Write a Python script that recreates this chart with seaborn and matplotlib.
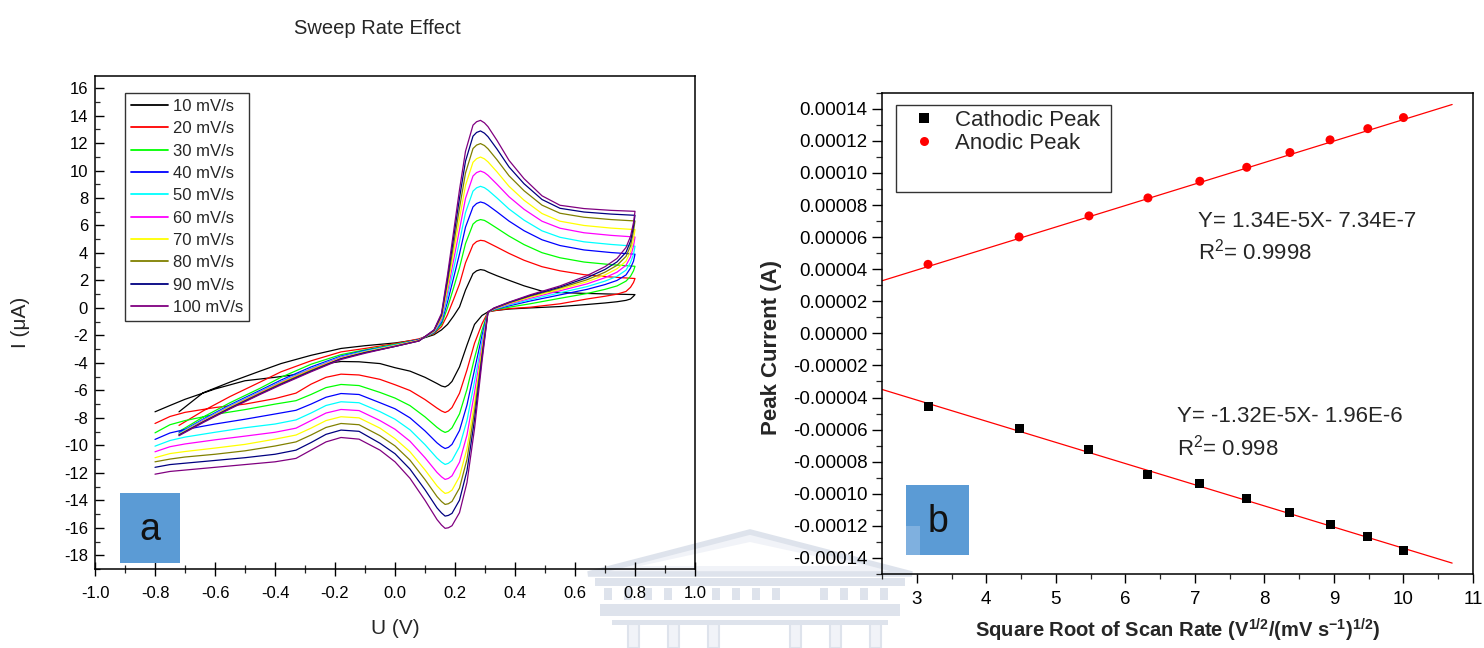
import numpy as np
import pandas as pd
import matplotlib
matplotlib.use("Agg")
import matplotlib.pyplot as plt
import seaborn as sns
from matplotlib.patches import Rectangle, Polygon
from matplotlib.ticker import MultipleLocator, FuncFormatter

# ---------------- data: cyclic voltammograms (panel a) ----------------
scan_labels = ["10 mV/s", "20 mV/s", "30 mV/s", "40 mV/s", "50 mV/s",
               "60 mV/s", "70 mV/s", "80 mV/s", "90 mV/s", "100 mV/s"]
line_colors = ["#000000", "#FF0000", "#00FF00", "#0000FF", "#00FFFF",
               "#FF00FF", "#FFFF00", "#808000", "#000080", "#800080"]

fwd_potential = [-0.72, -0.64, -0.55, -0.45, -0.38, -0.28, -0.18, -0.1, 0.0, 0.08,
                 0.13, 0.155, 0.175, 0.195, 0.215, 0.235, 0.26, 0.272, 0.285, 0.298,
                 0.31, 0.34, 0.38, 0.43, 0.49, 0.55, 0.63, 0.72, 0.8]
rev_potential = [0.8, 0.795, 0.785, 0.77, 0.74, 0.7, 0.64, 0.55, 0.45, 0.38,
                 0.33, 0.31, 0.29, 0.265, 0.24, 0.215, 0.19, 0.178, 0.167, 0.155,
                 0.14, 0.1, 0.05, 0.0, -0.05, -0.12, -0.18, -0.23, -0.28, -0.33,
                 -0.4, -0.5, -0.6, -0.7, -0.75, -0.8]

fwd_10 = [-7.56, -6.18, -5.4, -4.6, -4.05, -3.45, -2.95, -2.75, -2.55, -2.3,
          -1.95, -1.6, -1.2, -0.6, 0.07, 1.3, 2.5, 2.7, 2.79, 2.74,
          2.61, 2.34, 2.01, 1.61, 1.22, 1.12, 1.06, 1.01, 0.97]
rev_10 = [0.97, 0.85, 0.65, 0.55, 0.45, 0.36, 0.25, 0.1, 0.0, -0.08,
          -0.2, -0.29, -0.55, -1.2, -2.7, -4.29, -5.35, -5.62, -5.75, -5.68,
          -5.5, -5.05, -4.6, -4.35, -4.05, -3.92, -3.9, -4.05, -4.5, -4.85,
          -5.05, -5.3, -5.9, -6.65, -7.1, -7.56]

fwd_20 = [-8.55, -7.5, -6.45, -5.4, -4.65, -3.85, -3.2, -2.95, -2.6, -2.25,
          -1.88, -1.36, -0.49, 0.6, 1.74, 3.28, 4.6, 4.83, 4.92, 4.88,
          4.75, 4.42, 3.97, 3.47, 3.0, 2.70, 2.42, 2.25, 2.14]
rev_20 = [2.14, 1.85, 1.5, 1.2, 1.0, 0.85, 0.65, 0.3, 0.05, -0.05,
          -0.2, -0.29, -1.16, -2.58, -4.51, -6.21, -7.25, -7.5, -7.61, -7.5,
          -7.29, -6.67, -6.01, -5.59, -5.2, -4.88, -4.82, -5.05, -5.55, -6.2,
          -6.6, -7.0, -7.25, -7.6, -7.9, -8.41]

fwd_30 = [-9.0, -7.95, -6.9, -5.85, -5.05, -4.1, -3.4, -3.05, -2.65, -2.3,
          -1.83, -1.2, 0.01, 1.44, 2.93, 4.68, 6.1, 6.33, 6.43, 6.37,
          6.22, 5.80, 5.23, 4.61, 4.02, 3.65, 3.34, 3.15, 3.03]
rev_30 = [3.03, 2.7, 2.3, 1.95, 1.6, 1.35, 1.05, 0.7, 0.3, 0.05,
          -0.15, -0.29, -1.63, -3.65, -5.92, -7.71, -8.73, -8.97, -9.06, -8.93,
          -8.69, -7.93, -7.11, -6.56, -6.15, -5.65, -5.57, -5.8, -6.3, -6.75,
          -7.0, -7.4, -7.75, -8.2, -8.5, -9.09]

fwd_40 = [-9.1, -8.1, -7.05, -6.0, -5.25, -4.3, -3.5, -3.1, -2.7, -2.3,
          -1.79, -1.06, 0.43, 2.16, 3.93, 5.88, 7.35, 7.6, 7.71, 7.63,
          7.47, 6.99, 6.32, 5.62, 4.96, 4.54, 4.22, 4.03, 3.91]
rev_40 = [3.91, 3.4, 2.9, 2.4, 2.0, 1.7, 1.35, 0.95, 0.5, 0.15,
          -0.12, -0.29, -2.01, -4.51, -7.06, -8.92, -9.93, -10.15, -10.23, -10.08,
          -9.82, -8.95, -8.0, -7.34, -6.9, -6.3, -6.23, -6.5, -7.0, -7.45,
          -7.72, -8.1, -8.45, -8.85, -9.1, -9.57]

fwd_50 = [-9.15, -8.15, -7.12, -6.08, -5.35, -4.4, -3.55, -3.15, -2.7, -2.35,
          -1.75, -0.93, 0.81, 2.8, 4.83, 6.94, 8.5, 8.74, 8.85, 8.75,
          8.57, 8.0, 7.2, 6.39, 5.61, 5.14, 4.81, 4.62, 4.49]
rev_50 = [4.49, 3.9, 3.3, 2.75, 2.3, 1.95, 1.55, 1.1, 0.6, 0.22,
          -0.1, -0.29, -2.39, -5.36, -8.18, -10.1, -11.1, -11.31, -11.39, -11.22,
          -10.93, -9.95, -8.87, -8.10, -7.55, -6.9, -6.83, -7.1, -7.65, -8.15,
          -8.45, -8.72, -9.05, -9.4, -9.65, -10.06]

fwd_60 = [-9.2, -8.2, -7.18, -6.13, -5.4, -4.45, -3.6, -3.2, -2.75, -2.35,
          -1.72, -0.81, 1.18, 3.43, 5.7, 7.97, 9.6, 9.85, 9.96, 9.85,
          9.65, 9.0, 8.09, 7.18, 6.31, 5.8, 5.47, 5.28, 5.16]
rev_60 = [5.16, 4.5, 3.7, 3.1, 2.6, 2.2, 1.75, 1.25, 0.7, 0.28,
          -0.08, -0.29, -2.74, -6.17, -9.24, -11.23, -12.22, -12.41, -12.48, -12.29,
          -11.97, -10.9, -9.7, -8.83, -8.2, -7.47, -7.39, -7.65, -8.2, -8.75,
          -9.05, -9.33, -9.6, -9.9, -10.1, -10.47]

fwd_70 = [-9.2, -8.25, -7.22, -6.18, -5.45, -4.5, -3.65, -3.2, -2.75, -2.35,
          -1.69, -0.7, 1.51, 4.0, 6.5, 8.92, 10.6, 10.86, 10.98, 10.85,
          10.63, 9.9, 8.85, 7.84, 6.87, 6.31, 6.0, 5.81, 5.70]
rev_70 = [5.70, 5.0, 4.1, 3.4, 2.85, 2.4, 1.9, 1.35, 0.78, 0.33,
          -0.06, -0.29, -3.07, -6.92, -10.23, -12.28, -13.26, -13.44, -13.50, -13.29,
          -12.95, -11.79, -10.47, -9.51, -8.75, -8.0, -7.92, -8.2, -8.75, -9.25,
          -9.55, -9.93, -10.2, -10.45, -10.6, -10.9]

fwd_80 = [-9.25, -8.3, -7.27, -6.22, -5.5, -4.55, -3.7, -3.25, -2.8, -2.4,
          -1.65, -0.59, 1.84, 4.55, 7.27, 9.82, 11.6, 11.85, 11.96, 11.82,
          11.58, 10.78, 9.62, 8.53, 7.48, 6.89, 6.6, 6.43, 6.33]
rev_80 = [6.33, 5.6, 4.5, 3.75, 3.1, 2.6, 2.05, 1.45, 0.85, 0.37,
          -0.04, -0.29, -3.33, -7.52, -11.01, -13.11, -14.08, -14.25, -14.30, -14.09,
          -13.73, -12.49, -11.08, -10.04, -9.3, -8.5, -8.41, -8.7, -9.25, -9.75,
          -10.05, -10.4, -10.65, -10.85, -11.0, -11.2]

fwd_90 = [-9.25, -8.3, -7.3, -6.26, -5.55, -4.6, -3.7, -3.25, -2.8, -2.4,
          -1.62, -0.49, 2.14, 5.07, 7.99, 10.68, 12.5, 12.77, 12.88, 12.72,
          12.46, 11.56, 10.26, 9.04, 7.89, 7.25, 6.98, 6.83, 6.74]
rev_90 = [6.74, 5.95, 4.85, 4.05, 3.35, 2.8, 2.2, 1.52, 0.9, 0.4,
          -0.02, -0.29, -3.61, -8.15, -11.84, -13.99, -14.95, -15.1, -15.15, -14.92,
          -14.55, -13.23, -11.73, -10.61, -9.85, -8.98, -8.89, -9.2, -9.8, -10.35,
          -10.65, -10.9, -11.1, -11.3, -11.4, -11.6]

fwd_100 = [-9.3, -8.35, -7.35, -6.3, -5.6, -4.65, -3.75, -3.3, -2.8, -2.4,
           -1.6, -0.4, 2.4, 5.5, 8.6, 11.4, 13.3, 13.55, 13.65, 13.47,
           13.19, 12.19, 10.74, 9.41, 8.16, 7.47, 7.23, 7.10, 7.03]
rev_100 = [7.03, 6.2, 5.2, 4.4, 3.6, 3.0, 2.35, 1.6, 0.95, 0.42,
           0.0, -0.29, -3.9, -8.8, -12.7, -14.9, -15.85, -16.0, -16.04, -15.8,
           -15.4, -14.0, -12.4, -11.2, -10.35, -9.55, -9.43, -9.75, -10.35, -10.95,
           -11.2, -11.4, -11.6, -11.8, -11.9, -12.1]

forward_currents = [fwd_10, fwd_20, fwd_30, fwd_40, fwd_50,
                    fwd_60, fwd_70, fwd_80, fwd_90, fwd_100]
reverse_currents = [rev_10, rev_20, rev_30, rev_40, rev_50,
                    rev_60, rev_70, rev_80, rev_90, rev_100]

# ---------------- data: peak currents (panel b) ----------------
sqrt_scan_rate = [3.162, 4.472, 5.477, 6.325, 7.071, 7.746, 8.367, 8.944, 9.487, 10.0]
cathodic_peak = [-4.53e-5, -5.92e-5, -7.23e-5, -8.79e-5, -9.38e-5,
                 -1.029e-4, -1.118e-4, -1.191e-4, -1.268e-4, -1.351e-4]
anodic_peak = [4.30e-5, 6.01e-5, 7.32e-5, 8.44e-5, 9.48e-5,
               1.035e-4, 1.127e-4, 1.206e-4, 1.276e-4, 1.345e-4]
anodic_slope, anodic_intercept = 1.34e-5, -7.34e-7
cathodic_slope, cathodic_intercept = -1.32e-5, -1.96e-6
fit_x_range = [2.5, 10.7]

# ---------------- tidy tables ----------------
rows = []
for lab, f, r in zip(scan_labels, forward_currents, reverse_currents):
    for u, i in zip(fwd_potential, f):
        rows.append((lab, u, i))
    for u, i in zip(rev_potential, r):
        rows.append((lab, u, i))
cv = pd.DataFrame(rows, columns=["scan", "U", "I"])

peaks = pd.DataFrame({
    "x": sqrt_scan_rate * 2,
    "current": cathodic_peak + anodic_peak,
    "kind": ["Cathodic Peak"] * len(cathodic_peak) + ["Anodic Peak"] * len(anodic_peak),
})
fit_x = np.array(fit_x_range)
fits = pd.DataFrame({
    "x": np.concatenate([fit_x, fit_x]),
    "y": np.concatenate([anodic_slope * fit_x + anodic_intercept,
                         cathodic_slope * fit_x + cathodic_intercept]),
    "fit": ["anodic", "anodic", "cathodic", "cathodic"],
})

# ---------------- style ----------------
sns.set_theme(style="ticks")
plt.rcParams["font.family"] = ["Liberation Sans", "DejaVu Sans"]
plt.rcParams["mathtext.fontset"] = "custom"
plt.rcParams["mathtext.rm"] = "Liberation Sans"
plt.rcParams["mathtext.it"] = "Liberation Sans:italic"
plt.rcParams["mathtext.bf"] = "Liberation Sans:bold"

W, H = 1484, 648
fig = plt.figure(figsize=(W / 100, H / 100), dpi=100)
fig.patch.set_facecolor("white")

def fx(px):
    return px / W

def fy(py):
    return 1 - py / H

# faint watermark (building emblem) behind everything
wm_fill = "#F1F3F8"
wm_edge = "#DEE3EC"
fig.add_artist(Polygon([(fx(588), fy(574)), (fx(750), fy(532)), (fx(912), fy(574))],
                       closed=True, transform=fig.transFigure, facecolor=wm_fill,
                       edgecolor=wm_edge, linewidth=4, zorder=-2))
fig.add_artist(Polygon([(fx(640), fy(566)), (fx(750), fy(542)), (fx(860), fy(566))],
                       closed=True, transform=fig.transFigure, facecolor="white",
                       edgecolor="none", zorder=-2))
for (x0, y0, w, h) in [(595, 578, 310, 8), (600, 604, 300, 12), (612, 620, 276, 5)]:
    fig.add_artist(Rectangle((fx(x0), fy(y0 + h)), w / W, h / H, transform=fig.transFigure,
                             facecolor=wm_edge, edgecolor="none", zorder=-2))
for xw in [604, 624, 644, 664, 712, 732, 752, 772, 820, 840, 860, 880]:
    fig.add_artist(Rectangle((fx(xw), fy(600)), 8 / W, 12 / H, transform=fig.transFigure,
                             facecolor=wm_edge, edgecolor="none", zorder=-2))
for xc in [628, 668, 708, 790, 830, 870]:
    fig.add_artist(Rectangle((fx(xc), fy(648)), 11 / W, 24 / H, transform=fig.transFigure,
                             facecolor=wm_fill, edgecolor=wm_edge, linewidth=1.5, zorder=-2))

ax1 = fig.add_axes([95 / W, 1 - 569 / H, 600 / W, (569 - 75.7) / H])
ax2 = fig.add_axes([882 / W, 1 - 574 / H, 591 / W, (574 - 92.7) / H])
ax1.patch.set_alpha(0)
ax2.patch.set_alpha(0)

# ---------------- panel a ----------------
sns.lineplot(data=cv, x="U", y="I", hue="scan", hue_order=scan_labels,
             palette=line_colors, sort=False, estimator=None,
             linewidth=0.9, ax=ax1)
ax1.set_xlim(-1.0, 1.0)
ax1.set_ylim(-19.0, 16.9)
ax1.xaxis.set_major_locator(MultipleLocator(0.2))
ax1.xaxis.set_minor_locator(MultipleLocator(0.1))
ax1.yaxis.set_major_locator(MultipleLocator(2))
ax1.yaxis.set_minor_locator(MultipleLocator(1))
ax1.xaxis.set_major_formatter(FuncFormatter(lambda v, p: ("%.1f" % v).replace("-0.0", "0.0")))
ax1.yaxis.set_major_formatter(FuncFormatter(lambda v, p: "%d" % round(v)))
ax1.tick_params(axis="x", which="major", direction="inout", length=10, width=1,
                pad=7, labelsize=12, colors="black", bottom=True)
ax1.tick_params(axis="x", which="minor", direction="inout", length=5.5, width=0.9, bottom=True)
ax1.tick_params(axis="y", which="major", direction="in", length=6.5, width=1,
                pad=5, labelsize=12, colors="black", left=True)
ax1.tick_params(axis="y", which="minor", direction="in", length=3.6, width=0.9, left=True)
for s in ax1.spines.values():
    s.set_color("black")
    s.set_linewidth(1.1)
ax1.set_xlabel("U (V)", fontsize=15, va="center")
ax1.xaxis.set_label_coords(0.5, 1 - (628 - 75.7) / (569 - 75.7))
ax1.set_ylabel("I (\u03bcA)", fontsize=15, va="center")
ax1.yaxis.set_label_coords((20 - 95) / 600, 1 - (322 - 75.7) / (569 - 75.7))

handles, labels = ax1.get_legend_handles_labels()
leg1 = ax1.legend(handles, labels, loc="upper left",
                  bbox_to_anchor=(30 / 600, 1 - (93 - 75.7) / (569 - 75.7)),
                  borderaxespad=0, fontsize=12, handlelength=2.2, handletextpad=0.35,
                  labelspacing=0.44, borderpad=0.35, frameon=True, fancybox=False,
                  edgecolor="#333333", framealpha=1)
leg1.get_frame().set_linewidth(1.0)
for lh in leg1.get_lines():
    lh.set_linewidth(1.3)

# ---------------- panel b ----------------
sns.lineplot(data=fits, x="x", y="y", units="fit", estimator=None, color="red",
             linewidth=0.9, ax=ax2, legend=False, zorder=2)
sns.scatterplot(data=peaks, x="x", y="current", hue="kind", style="kind",
                hue_order=["Cathodic Peak", "Anodic Peak"],
                style_order=["Cathodic Peak", "Anodic Peak"],
                palette={"Cathodic Peak": "black", "Anodic Peak": "red"},
                markers={"Cathodic Peak": "s", "Anodic Peak": "o"},
                s=42, linewidth=0, ax=ax2, zorder=3)
ax2.set_xlim(2.5, 11)
ax2.set_ylim(-0.00015, 0.00015)
ax2.xaxis.set_major_locator(MultipleLocator(1))
ax2.xaxis.set_minor_locator(MultipleLocator(0.5))
ax2.yaxis.set_major_locator(MultipleLocator(0.00002))
ax2.yaxis.set_minor_locator(MultipleLocator(0.00001))
ax2.yaxis.set_major_formatter(FuncFormatter(lambda v, p: ("%.5f" % v).replace("-0.00000", "0.00000")))
ax2.xaxis.set_major_formatter(FuncFormatter(lambda v, p: "%d" % round(v)))
ax2.tick_params(axis="x", which="major", direction="out", length=6.5, width=1,
                pad=6, labelsize=13.5, colors="black", bottom=True)
ax2.tick_params(axis="x", which="minor", direction="out", length=3.5, width=0.9, bottom=True)
ax2.tick_params(axis="y", which="major", direction="out", length=7, width=1,
                pad=3.5, labelsize=13.5, colors="black", left=True)
ax2.tick_params(axis="y", which="minor", direction="out", length=4, width=0.9, left=True)
for s in ax2.spines.values():
    s.set_color("black")
    s.set_linewidth(1.1)
ax2.set_xlabel(r"Square Root of Scan Rate (V$^{\mathbf{1/2}}$/(mV s$^{\mathbf{-1}}$)$^{\mathbf{1/2}}$)",
               fontsize=14.5, fontweight="bold", va="center")
ax2.xaxis.set_label_coords((1178 - 882) / 591, 1 - (630 - 92.7) / (574 - 92.7))
ax2.set_ylabel("Peak Current (A)", fontsize=16, fontweight="bold", va="center")
ax2.yaxis.set_label_coords((772 - 882) / 591, 1 - (347.5 - 92.7) / (574 - 92.7))

h2, l2 = ax2.get_legend_handles_labels()
leg2 = ax2.legend(h2, l2, loc="upper left",
                  bbox_to_anchor=((912.5 - 882) / 591, 1 - (109.5 - 92.7) / (574 - 92.7)),
                  borderaxespad=0, borderpad=0, fontsize=16, handlelength=1.0,
                  handletextpad=0.9, labelspacing=0.1, frameon=False)
ax2.add_patch(Rectangle(((896 - 882) / 591, 1 - (192 - 92.7) / (574 - 92.7)),
                        (1111 - 896) / 591, (192 - 105) / (574 - 92.7),
                        transform=ax2.transAxes, fill=False, edgecolor="#333333",
                        linewidth=1.0, zorder=5))

ax2.text((1197.5 - 882) / 591, 1 - (221 - 92.7) / 481.3, "Y= 1.34E-5X- 7.34E-7",
         transform=ax2.transAxes, fontsize=16, va="center", ha="left")
ax2.text((1197.5 - 882) / 591, 1 - (252 - 92.7) / 481.3, r"R$^2$= 0.9998",
         transform=ax2.transAxes, fontsize=16, va="center", ha="left")
ax2.text((1177 - 882) / 591, 1 - (417 - 92.7) / 481.3, "Y= -1.32E-5X- 1.96E-6",
         transform=ax2.transAxes, fontsize=16, va="center", ha="left")
ax2.text((1177 - 882) / 591, 1 - (448 - 92.7) / 481.3, r"R$^2$= 0.998",
         transform=ax2.transAxes, fontsize=16, va="center", ha="left")

# ---------------- panel tags & title ----------------
fig.add_artist(Rectangle((120 / W, 1 - 563 / H), 60 / W, 70 / H, transform=fig.transFigure,
                         facecolor="#5B9BD5", edgecolor="none", zorder=6))
fig.text(150 / W, 1 - 530 / H, "a", fontsize=27, ha="center", va="center",
         color="#111111", zorder=7)
fig.add_artist(Rectangle((906 / W, 1 - 555 / H), 63 / W, 70 / H, transform=fig.transFigure,
                         facecolor="#5B9BD5", edgecolor="none", zorder=6))
fig.add_artist(Rectangle((906 / W, 1 - 555 / H), 14 / W, 29 / H, transform=fig.transFigure,
                         facecolor="#7FB0DF", edgecolor="none", zorder=6))
fig.text(938 / W, 1 - 522 / H, "b", fontsize=27, ha="center", va="center",
         color="#111111", zorder=7)
fig.text(377 / W, 1 - 28 / H, "Sweep Rate Effect", fontsize=14.5, ha="center", va="center")

fig.savefig("out.png", dpi=100, facecolor="white")
